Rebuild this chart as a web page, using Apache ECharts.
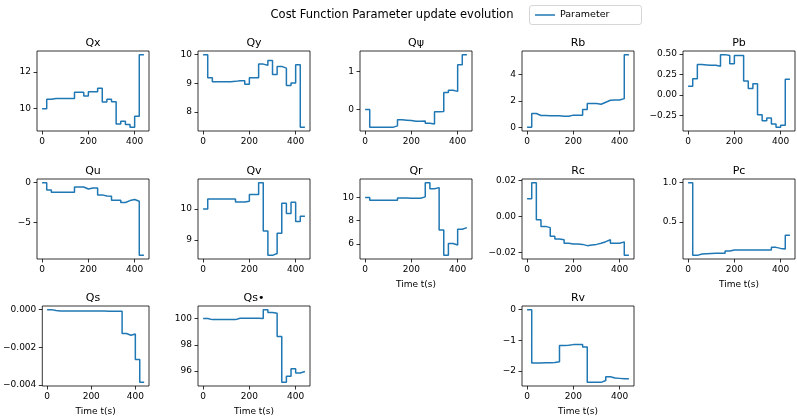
<!DOCTYPE html>
<html>
<head>
<meta charset="utf-8">
<script src="https://cdn.jsdelivr.net/npm/echarts@6/dist/echarts.min.js"></script>
<style>
  html, body { margin: 0; padding: 0; background: #fff; }
  #chart { width: 797px; height: 419px; }
</style>
</head>
<body>
<div id="chart"></div>
<script>
// Sample times (s) of the parameter updates
const timeS = [0, 20, 40, 60, 80, 100, 120, 140, 160, 180, 200, 220, 240, 260, 280, 300, 320, 340, 360, 380, 400, 420, 440];

// Parameter values held from each update time to the next
const Qx  = [10.0, 10.51, 10.56, 10.56, 10.56, 10.55, 10.55, 10.89, 10.89, 10.69, 10.93, 10.93, 11.11, 10.36, 10.51, 10.38, 9.16, 9.31, 9.13, 8.98, 9.58, 12.95, 12.95];
const Qy  = [10.0, 9.2, 9.06, 9.06, 9.06, 9.06, 9.07, 9.09, 9.09, 8.97, 9.2, 9.2, 9.67, 9.63, 9.8, 9.31, 9.59, 9.53, 8.93, 9.01, 9.65, 7.47, 7.47];
const Qpsi = [0.0, -0.47, -0.47, -0.47, -0.47, -0.47, -0.43, -0.27, -0.28, -0.29, -0.31, -0.31, -0.3, -0.36, -0.38, -0.06, -0.05, 0.45, 0.51, 0.48, 1.18, 1.45, 1.45];
const Rb  = [0.0, 1.04, 0.89, 0.89, 0.88, 0.88, 0.87, 0.84, 0.84, 0.92, 0.92, 0.92, 1.34, 1.79, 1.79, 1.74, 1.89, 2.04, 2.05, 2.06, 2.16, 5.47, 5.47];
const Pb  = [0.105, 0.198, 0.37, 0.365, 0.36, 0.36, 0.35, 0.49, 0.48, 0.38, 0.48, 0.48, 0.17, 0.077, 0.137, -0.24, -0.315, -0.28, -0.355, -0.395, -0.37, 0.19, 0.19];
const Qu  = [0.0, -0.92, -1.22, -1.22, -1.22, -1.22, -1.22, -0.55, -0.55, -0.8, -0.67, -0.67, -1.55, -1.68, -1.72, -2.23, -2.23, -2.52, -2.27, -2.14, -2.35, -9.2, -9.2];
const Qv  = [10.0, 10.32, 10.32, 10.32, 10.32, 10.32, 10.32, 10.23, 10.23, 10.25, 10.47, 10.47, 10.85, 9.29, 8.51, 8.57, 9.22, 10.19, 9.86, 10.22, 9.6, 9.77, 9.77];
const Qr  = [10.0, 9.77, 9.77, 9.77, 9.77, 9.77, 9.77, 9.97, 9.97, 9.94, 9.94, 9.94, 10.06, 11.29, 10.77, 10.86, 7.2, 5.0, 6.03, 5.89, 7.26, 7.4, 7.4];
const Rc  = [0.01, 0.0189, -0.0017, -0.0054, -0.0061, -0.0109, -0.0124, -0.0128, -0.0148, -0.0152, -0.0152, -0.0154, -0.0161, -0.0157, -0.0154, -0.0148, -0.0139, -0.0128, -0.0148, -0.0148, -0.014, -0.0215, -0.0215];
const Pc  = [1.0, 0.072, 0.089, 0.093, 0.097, 0.1, 0.1, 0.1, 0.127, 0.14, 0.14, 0.14, 0.14, 0.14, 0.14, 0.14, 0.14, 0.14, 0.174, 0.161, 0.153, 0.33, 0.33];
const Qs  = [0.0, -0.00005, -0.00007, -0.00007, -0.00007, -0.00007, -0.00007, -0.00007, -0.00007, -0.00007, -0.00007, -0.00007, -0.00007, -0.00009, -0.00009, -0.00009, -0.00009, -0.00127, -0.00136, -0.00129, -0.00264, -0.00386, -0.00386];
const Qsd = [100.0, 99.92, 99.92, 99.92, 99.92, 99.92, 99.92, 100.03, 100.03, 100.03, 100.03, 100.03, 100.0, 100.68, 100.46, 100.4, 98.63, 95.14, 95.6, 96.18, 95.85, 95.97, 95.97];
const Rv  = [0.0, -1.74, -1.74, -1.73, -1.73, -1.72, -1.7, -1.17, -1.16, -1.14, -1.14, -1.14, -1.22, -2.37, -2.37, -2.37, -2.31, -2.19, -2.23, -2.24, -2.25, -2.25, -2.25];

// Tick values
const xTicks = [0, 200, 400];
const QxTicks = [10, 12];
const QyTicks = [8, 9, 10];
const QpsiTicks = [0, 1];
const RbTicks = [0, 2, 4];
const PbTicks = [-0.25, 0, 0.25, 0.5];
const QuTicks = [-5, 0];
const QvTicks = [9, 10];
const QrTicks = [6, 8, 10];
const RcTicks = [-0.02, 0, 0.02];
const PcTicks = [0.5, 1.0];
const QsTicks = [-0.004, -0.002, 0];
const QsdTicks = [96, 98, 100];
const RvTicks = [-2, -1, 0];

const timeLabel = 'Time t(s)';

// Panel layout: [title, values, y ticks, decimals, column, row, show x label]
const panels = [
  ['Qx', Qx, QxTicks, 0, 0, 0, false],
  ['Qy', Qy, QyTicks, 0, 1, 0, false],
  ['Q\u03c8', Qpsi, QpsiTicks, 0, 2, 0, false],
  ['Rb', Rb, RbTicks, 0, 3, 0, false],
  ['Pb', Pb, PbTicks, 2, 4, 0, false],
  ['Qu', Qu, QuTicks, 0, 0, 1, false],
  ['Qv', Qv, QvTicks, 0, 1, 1, false],
  ['Qr', Qr, QrTicks, 0, 2, 1, true],
  ['Rc', Rc, RcTicks, 2, 3, 1, false],
  ['Pc', Pc, PcTicks, 1, 4, 1, true],
  ['Qs', Qs, QsTicks, 3, 0, 2, true],
  ['Qs\u2022', Qsd, QsdTicks, 0, 1, 2, true],
  ['Rv', Rv, RvTicks, 0, 3, 2, true]
];

const colLeft = [37, 198, 360, 522, 683];
const rowTop = [51, 179, 306];
const panelW = 112, panelH = 80;
const FONT = 'DejaVu Sans';
const LINE = '#1f77b4';

const fmt = (d) => (v) => {
  const s = Math.abs(v).toFixed(d);
  return (v < 0 && parseFloat(s) !== 0 ? '\u2212' : '') + s;
};

const grids = [], xAxes = [], yAxes = [], series = [], graphics = [];

panels.forEach((p, i) => {
  const [name, vals, ticks, dec, col, row, xl] = p;
  const left = colLeft[col], top = rowTop[row];
  grids.push({ left: left, top: top, width: panelW, height: panelH, show: true,
    borderColor: '#000', borderWidth: 0.8, backgroundColor: 'transparent', containLabel: false });

  // 5% head-room above and below the data, as in the usual autoscale
  const lo = Math.min(...vals), hi = Math.max(...vals);
  const pad = (hi - lo) * 0.05;

  xAxes.push({
    type: 'value', gridIndex: i, min: -22, max: 462, position: 'bottom',
    axisLine: { show: false, onZero: false },
    splitLine: { show: false },
    axisTick: { show: true, length: 3.5, lineStyle: { color: '#000', width: 0.8 }, customValues: xTicks },
    axisLabel: { show: true, margin: 6, fontFamily: FONT, fontSize: 9, color: '#000', customValues: xTicks,
      formatter: (v) => String(v) },
    name: xl ? timeLabel : '',
    nameLocation: 'middle', nameGap: 21,
    nameTextStyle: { fontFamily: FONT, fontSize: 9, color: '#000' }
  });
  yAxes.push({
    type: 'value', gridIndex: i, min: lo - pad, max: hi + pad, position: 'left',
    axisLine: { show: false, onZero: false },
    splitLine: { show: false },
    axisTick: { show: true, length: 3.5, lineStyle: { color: '#000', width: 0.8 }, customValues: ticks },
    axisLabel: { show: true, margin: 6, fontFamily: FONT, fontSize: 9, color: '#000', customValues: ticks,
      formatter: fmt(dec) }
  });
  series.push({
    name: 'Parameter', type: 'line', step: 'end', xAxisIndex: i, yAxisIndex: i,
    data: timeS.map((t, k) => [t, vals[k]]),
    showSymbol: false, symbol: 'none',
    lineStyle: { color: LINE, width: 1.5 }, itemStyle: { color: LINE },
    animation: false, silent: true
  });
  graphics.push({
    type: 'text', silent: true,
    x: left + panelW / 2, y: top - 2.5,
    style: { text: name, align: 'center', verticalAlign: 'bottom',
      font: '11px "' + FONT + '"', fill: '#000' }
  });
});

// Figure title
graphics.push({
  type: 'text', silent: true, x: 392, y: 15,
  style: { text: 'Cost Function Parameter update evolution', align: 'center', verticalAlign: 'middle',
    font: '11.5px "' + FONT + '"', fill: '#000' }
});
// Legend frame
graphics.push({
  type: 'rect', silent: true, z: -1,
  shape: { x: 529.5, y: 5.5, width: 112, height: 19, r: 2.5 },
  style: { fill: 'rgba(255,255,255,0.8)', stroke: '#cccccc', lineWidth: 0.8 }
});

const chart = echarts.init(document.getElementById('chart'), null, { renderer: 'canvas' });
chart.setOption({
  animation: false,
  backgroundColor: '#fff',
  grid: grids,
  xAxis: xAxes,
  yAxis: yAxes,
  series: series,
  legend: {
    show: true, left: 535, top: 10,
    data: [{ name: 'Parameter', icon: 'rect' }],
    itemWidth: 20, itemHeight: 1.5, itemGap: 8,
    padding: 0,
    textStyle: { fontFamily: FONT, fontSize: 9.5, color: '#000', padding: [0, 0, 0, 0] },
    selectedMode: false
  },
  graphic: graphics
});
</script>
</body>
</html>
